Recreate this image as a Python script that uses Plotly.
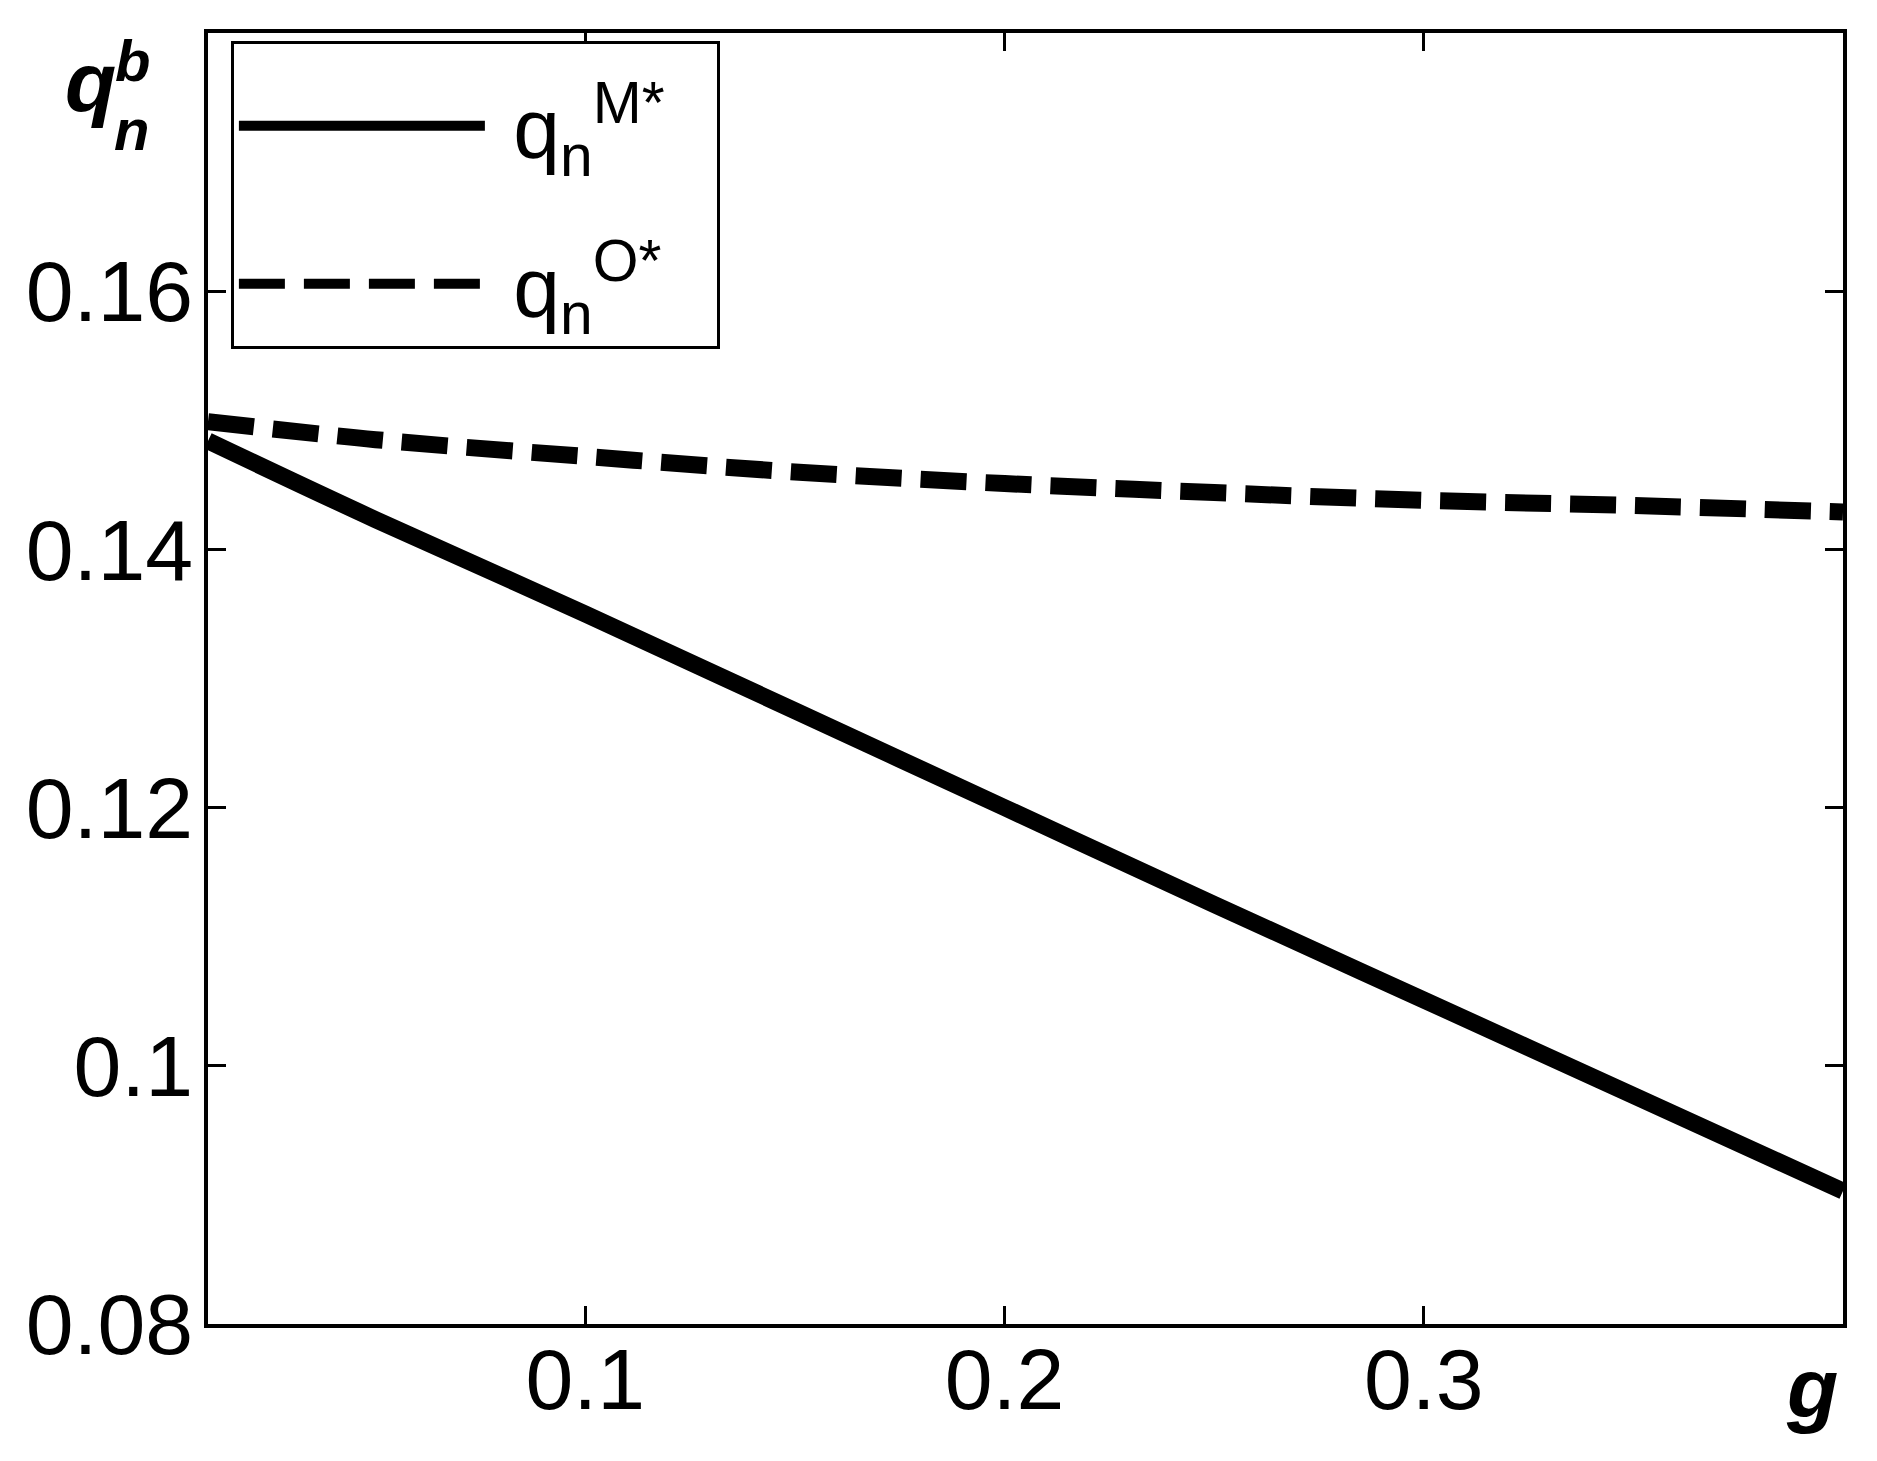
import plotly.graph_objects as go

# values
g = [0.01, 0.05, 0.10, 0.15, 0.20, 0.25, 0.30, 0.35, 0.40]
q_M = [0.1484, 0.1423, 0.1350, 0.1275, 0.1200, 0.1125, 0.1051, 0.0977, 0.0903]
q_O = [0.1499, 0.1485, 0.1472, 0.1460, 0.1451, 0.1444, 0.1438, 0.1434, 0.1429]

y_ticks = [0.08, 0.10, 0.12, 0.14, 0.16]
y_ticktext = ['0.08', '0.1', '0.12', '0.14', '0.16']
x_ticks = [0.1, 0.2, 0.3]
x_ticktext = ['0.1', '0.2', '0.3']

FONT = 'Liberation Sans, Arial, sans-serif'
PAD = '&nbsp;&nbsp;'

fig = go.Figure()
fig.add_trace(go.Scatter(x=g, y=q_M, mode='lines', name='&nbsp;q<sub>n</sub><sup>M*</sup>' + PAD,
                         legendgroup='M', line=dict(color='black', width=17, shape='spline')))
fig.add_trace(go.Scatter(x=g, y=q_O, mode='lines', name='&nbsp;q<sub>n</sub><sup>O*</sup>' + PAD,
                         legendgroup='O', line=dict(color='black', width=17, shape='spline', dash='46px,19px')))

axis_common = dict(showline=True, linecolor='black', linewidth=3.5, mirror='ticks',
                   ticks='inside', ticklen=18, tickwidth=3, tickcolor='black',
                   showgrid=False, zeroline=False,
                   tickfont=dict(family=FONT, size=86, color='black'))

fig.update_xaxes(range=[0.01, 0.4], tickvals=x_ticks, ticktext=x_ticktext,
                 ticklabelstandoff=-22, **axis_common)
fig.update_yaxes(range=[0.08, 0.18], tickvals=y_ticks, ticktext=y_ticktext,
                 ticklabelstandoff=-6, **axis_common)

# axis labels placed like the original (bold italic)
fig.add_annotation(xref='paper', yref='paper', x=0.998, y=-0.012, yanchor='top', xanchor='right',
                   text='<b><i>g</i></b>', showarrow=False,
                   font=dict(family=FONT, size=84, color='black'))
fig.add_annotation(xref='paper', yref='paper', x=-0.055, y=0.962, yanchor='middle', xanchor='right',
                   text='<b><i>q</i></b>', showarrow=False,
                   font=dict(family=FONT, size=84, color='black'))
fig.add_annotation(xref='paper', yref='paper', x=-0.058, y=0.979, yanchor='middle', xanchor='left',
                   text='<b><i>b</i></b>', showarrow=False,
                   font=dict(family=FONT, size=58, color='black'))
fig.add_annotation(xref='paper', yref='paper', x=-0.059, y=0.925, yanchor='middle', xanchor='left',
                   text='<b><i>n</i></b>', showarrow=False,
                   font=dict(family=FONT, size=58, color='black'))

fig.update_layout(
    width=1877,
    height=1461,
    margin=dict(l=200, r=42, t=25, b=145),
    plot_bgcolor='white',
    paper_bgcolor='white',
    legend=dict(x=0.014, y=0.994, xanchor='left', yanchor='top',
                bordercolor='black', borderwidth=3, bgcolor='white',
                font=dict(family=FONT, size=84, color='black'),
                title=dict(text=' ', font=dict(size=16)),
                itemwidth=246, tracegroupgap=46, traceorder='grouped'),
)

fig.write_html("out.html")
